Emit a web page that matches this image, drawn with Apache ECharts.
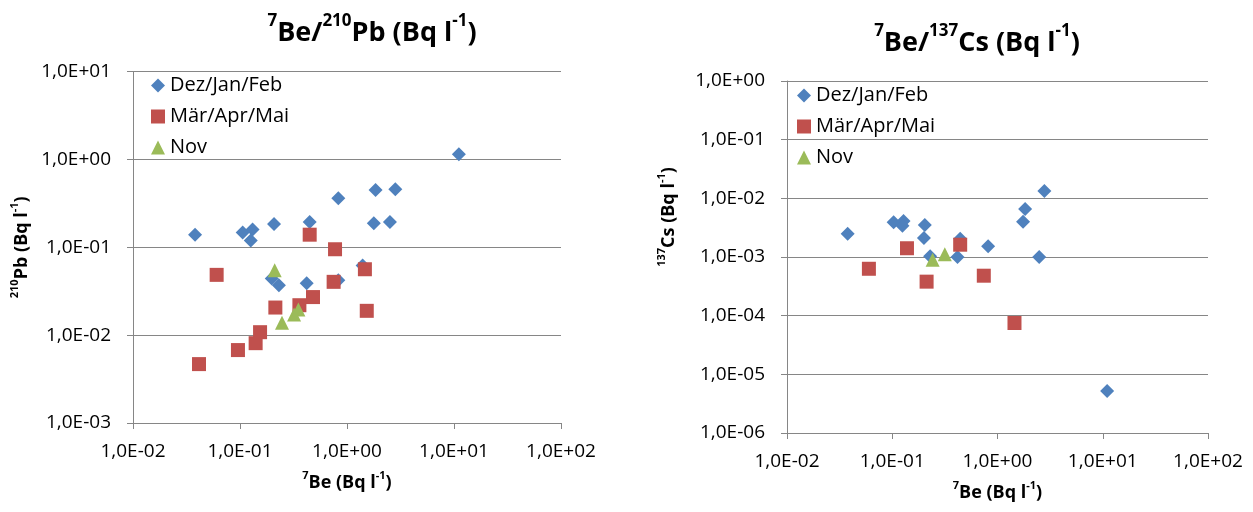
<!DOCTYPE html>
<html>
<head>
<meta charset="utf-8">
<style>
  html, body { margin: 0; padding: 0; background: #fff; }
  #chart { width: 1253px; height: 512px; }
</style>
<script src="https://cdn.jsdelivr.net/npm/echarts@6/dist/echarts.min.js"></script>
</head>
<body>
<div id="chart"></div>
<script>
// Series names (seasons)
const seasonNames = ['Dez/Jan/Feb', 'Mär/Apr/Mai', 'Nov'];

// 7Be vs 210Pb (Bq l-1)
const pbWinterBe = [0.038, 0.106, 0.131, 0.126, 0.208, 0.448, 0.83, 1.85, 2.83, 1.78, 2.52, 11.1, 0.198, 0.231, 0.42, 0.83, 1.40];
const pbWinterPb = [0.139, 0.147, 0.159, 0.119, 0.184, 0.194, 0.36, 0.449, 0.456, 0.187, 0.194, 1.14, 0.044, 0.037, 0.039, 0.042, 0.062];
const pbSpringBe = [0.0605, 0.0414, 0.0957, 0.140, 0.154, 0.214, 0.359, 0.481, 0.448, 0.773, 0.750, 1.47, 1.53];
const pbSpringPb = [0.0485, 0.00468, 0.00676, 0.0081, 0.0108, 0.0206, 0.0219, 0.0271, 0.139, 0.0949, 0.0404, 0.0562, 0.0189];
const pbNovBe = [0.211, 0.247, 0.320, 0.351];
const pbNovPb = [0.0548, 0.0138, 0.0172, 0.0196];

// 7Be vs 137Cs (Bq l-1)
const csWinterBe = [0.0377, 0.103, 0.128, 0.125, 0.204, 0.200, 0.229, 0.417, 0.442, 0.815, 1.83, 1.75, 2.79, 2.49, 11.0];
const csWinterCs = [0.0025, 0.0039, 0.0041, 0.0034, 0.0035, 0.0021, 0.00103, 0.0010, 0.00205, 0.00152, 0.00658, 0.0040, 0.0133, 0.0010, 5.2e-6];
const csSpringBe = [0.060, 0.138, 0.212, 0.442, 0.741, 1.45];
const csSpringCs = [0.00063, 0.00141, 0.00038, 0.00162, 0.00048, 7.5e-5];
const csNovBe = [0.242, 0.316];
const csNovCs = [0.0009, 0.00111];

// Tick labels, keyed by decade exponent
const beTickLabels = ['1,0E-02', '1,0E-01', '1,0E+00', '1,0E+01', '1,0E+02'];
const pbTickLabels = ['1,0E-03', '1,0E-02', '1,0E-01', '1,0E+00', '1,0E+01'];
const csTickLabels = ['1,0E-06', '1,0E-05', '1,0E-04', '1,0E-03', '1,0E-02', '1,0E-01', '1,0E+00'];

const FONT = '"Open Sans", "Noto Sans", sans-serif';
const GRID_GRAY = '#868686';
const COLORS = ['#4F81BD', '#C0504D', '#9BBB59'];
const SYMBOLS = ['diamond', 'rect', 'triangle'];
const SIZES = [14, 14, 14];

function tickFormatter(labels, minExp) {
  return function (v) {
    const e = Math.round(Math.log10(v));
    return labels[e - minExp] || '';
  };
}

const supRich = {
  n: { fontFamily: FONT, fontWeight: 'bold', fontSize: 18, color: '#000', lineHeight: 22, verticalAlign: 'bottom' },
  s: { fontFamily: FONT, fontWeight: 'bold', fontSize: 11, color: '#000', lineHeight: 14, verticalAlign: 'top' }
};
const titleRich = {
  n: { fontFamily: FONT, fontWeight: 'bold', fontSize: 27, color: '#000', lineHeight: 34, verticalAlign: 'bottom' },
  s: { fontFamily: FONT, fontWeight: 'bold', fontSize: 17, color: '#000', lineHeight: 22, verticalAlign: 'top' }
};

function makeAxis(gridIndex, min, max, extra) {
  return Object.assign({
    type: 'log',
    logBase: 10,
    gridIndex: gridIndex,
    min: min,
    max: max,
    interval: 1,
    axisLine: { show: true, onZero: false, lineStyle: { color: GRID_GRAY, width: 1 } },
    axisTick: { show: true, inside: false, length: 6, lineStyle: { color: GRID_GRAY } },
    minorTick: { show: false },
    nameLocation: 'middle'
  }, extra);
}

function pairs(xs, ys) {
  return xs.map((x, i) => [x, ys[i]]);
}

function scatter(k, xAxisIndex, yAxisIndex, xs, ys) {
  return {
    name: seasonNames[k],
    type: 'scatter',
    xAxisIndex: xAxisIndex,
    yAxisIndex: yAxisIndex,
    symbol: SYMBOLS[k],
    symbolSize: SIZES[k],
    itemStyle: { color: COLORS[k], opacity: 1 },
    emphasis: { disabled: true },
    data: pairs(xs, ys)
  };
}

function legendAt(left, top) {
  return {
    orient: 'vertical',
    left: left,
    top: top,
    itemWidth: 14,
    itemHeight: 14,
    itemGap: 10,
    padding: 0,
    selectedMode: false,
    textStyle: { fontFamily: FONT, fontSize: 20, color: '#000', lineHeight: 21 },
    data: seasonNames.map((n, k) => ({ name: n, icon: SYMBOLS[k] }))
  };
}

function tickLabelStyle(labels, minExp, margin) {
  return { fontFamily: FONT, fontSize: 19, color: '#000', margin: margin, formatter: tickFormatter(labels, minExp) };
}

const chart = echarts.init(document.getElementById('chart'), null, { renderer: 'canvas' });

chart.setOption({
  backgroundColor: '#fff',
  animation: false,
  title: [
    {
      text: '{s|7}{n|Be/}{s|210}{n|Pb (Bq l}{s|-1}{n|)}',
      left: 367, top: 8, textAlign: 'center',
      textStyle: { rich: titleRich }
    },
    {
      text: '{s|7}{n|Be/}{s|137}{n|Cs (Bq l}{s|-1}{n|)}',
      left: 972, top: 18, textAlign: 'center',
      textStyle: { rich: titleRich }
    }
  ],
  legend: [legendAt(151, 75), legendAt(797, 85)],
  grid: [
    { left: 133, right: 692, top: 71.5, bottom: 89, containLabel: false },
    { left: 787, right: 45, top: 81, bottom: 79, containLabel: false }
  ],
  xAxis: [
    makeAxis(0, 0.01, 100, {
      splitLine: { show: false },
      axisLabel: tickLabelStyle(beTickLabels, -2, 19),
      name: '{s|7}{n|Be (Bq l}{s|-1}{n|)}',
      nameGap: 47,
      nameTextStyle: { rich: supRich }
    }),
    makeAxis(1, 0.01, 100, {
      splitLine: { show: false },
      axisLabel: tickLabelStyle(beTickLabels, -2, 19),
      name: '{s|7}{n|Be (Bq l}{s|-1}{n|)}',
      nameGap: 47,
      nameTextStyle: { rich: supRich }
    })
  ],
  yAxis: [
    makeAxis(0, 0.001, 10, {
      splitLine: { show: true, lineStyle: { color: GRID_GRAY, width: 1 } },
      axisLabel: tickLabelStyle(pbTickLabels, -3, 22),
      name: '{s|210}{n|Pb (Bq l}{s|-1}{n|)}',
      nameGap: 102,
      nameRotate: 90,
      nameTextStyle: { rich: supRich }
    }),
    makeAxis(1, 1e-6, 1, {
      splitLine: { show: true, lineStyle: { color: GRID_GRAY, width: 1 } },
      axisLabel: tickLabelStyle(csTickLabels, -6, 22),
      name: '{s|137}{n|Cs (Bq l}{s|-1}{n|)}',
      nameGap: 109,
      nameRotate: 90,
      nameTextStyle: { rich: supRich, padding: [0, 0, 0, 80] }
    })
  ],
  series: [
    scatter(0, 0, 0, pbWinterBe, pbWinterPb),
    scatter(1, 0, 0, pbSpringBe, pbSpringPb),
    scatter(2, 0, 0, pbNovBe, pbNovPb),
    scatter(0, 1, 1, csWinterBe, csWinterCs),
    scatter(1, 1, 1, csSpringBe, csSpringCs),
    scatter(2, 1, 1, csNovBe, csNovCs)
  ]
});
</script>
</body>
</html>
